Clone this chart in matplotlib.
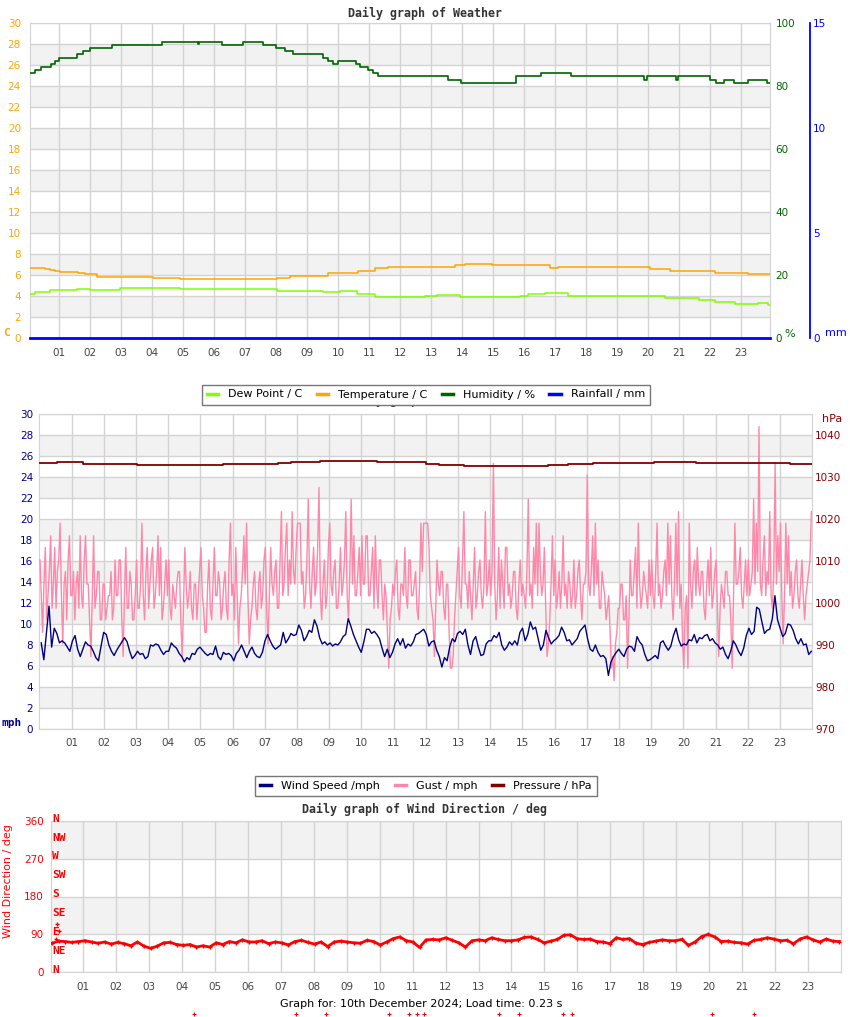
import numpy as np
import matplotlib
matplotlib.use("Agg")
import matplotlib.pyplot as plt
from matplotlib.lines import Line2D

plt.rcParams.update({"font.family": "DejaVu Sans", "font.size": 8})

# ---------------- data ----------------
# panel 1 (step series: hour of change, value)
temp_h = [0.05, 0.54, 0.70, 0.86, 1.02, 1.60, 1.83, 2.22, 4.03, 4.90, 8.03, 8.45, 9.68,
          10.64, 11.19, 11.60, 13.77, 14.09, 14.96, 16.83, 17.09, 20.06, 20.71, 22.16, 23.22, 23.93]
temp_c = [6.64, 6.55, 6.45, 6.35, 6.30, 6.16, 6.05, 5.81, 5.72, 5.62, 5.72, 5.90, 6.16,
          6.41, 6.64, 6.73, 6.95, 7.08, 6.92, 6.67, 6.80, 6.57, 6.40, 6.16, 6.06, 6.06]

dew_h = [0.05, 0.22, 0.70, 1.57, 1.99, 2.96, 4.90, 7.64, 8.03, 9.51, 10.06, 10.61, 11.19, 12.80,
         13.19, 13.93, 15.87, 16.13, 16.67, 17.42, 20.55, 21.65, 22.16, 22.80, 23.54, 23.86, 23.93]
dew_c = [4.16, 4.35, 4.54, 4.67, 4.60, 4.79, 4.70, 4.63, 4.44, 4.35, 4.44, 4.19, 3.90, 3.97,
         4.10, 3.94, 4.00, 4.19, 4.25, 3.97, 3.78, 3.59, 3.40, 3.24, 3.30, 3.10, 3.10]

hum_h = [0.05, 0.22, 0.40, 0.72, 0.86, 1.00, 1.56, 1.76, 1.99, 2.69, 4.30, 5.47, 5.52, 6.24, 6.92,
         7.58, 7.99, 8.28, 8.53, 9.52, 9.66, 9.82, 10.00, 10.57, 10.70, 10.97, 11.12, 11.28, 13.55,
         13.95, 15.75, 16.55, 17.50, 19.88, 19.95, 20.90, 20.97, 22.00, 22.19, 22.45, 22.78, 23.23,
         23.84, 23.93]
hum_pc = [84.0, 85.0, 85.9, 86.9, 87.8, 88.8, 90.0, 91.0, 92.0, 92.9, 93.9, 93.2, 93.9, 92.9, 93.9,
          92.9, 92.0, 91.0, 90.0, 88.8, 87.8, 86.9, 87.8, 86.9, 85.9, 85.0, 84.0, 83.1, 82.0,
          80.9, 83.1, 84.0, 83.1, 82.0, 83.1, 82.0, 83.1, 81.9, 80.9, 81.9, 80.9, 81.9,
          80.9, 80.9]

rain_h = [0.05, 23.93]
rain_mm = [0.0, 0.0]

# panel 2
pres_h = [0.0, 0.55, 1.36, 3.04, 5.0, 5.7, 7.4, 7.8, 8.7, 10.0, 10.5, 12.0, 12.4, 13.2, 13.8,
          15.8, 16.4, 17.2, 19.1, 20.4, 21.9, 23.3, 24.0]
pres_hpa = [1033.3, 1033.5, 1033.2, 1032.9, 1032.8, 1033.0, 1033.3, 1033.5, 1033.7, 1033.8,
            1033.6, 1033.2, 1032.9, 1032.7, 1032.6, 1032.8, 1033.1, 1033.3, 1033.5, 1033.4,
            1033.3, 1033.1, 1033.1]

wind_mph = [
    8.2, 6.6, 9.2, 11.7, 7.8, 9.6, 9.1, 8.2, 8.4, 8.2, 7.8, 7.4, 8.4, 8.9, 7.6, 6.9, 7.6, 8.3, 8.0, 7.9,
    7.4, 6.8, 6.5, 7.9, 9.2, 9.0, 8.0, 7.4, 7.0, 7.5, 7.9, 8.3, 8.7, 8.3, 7.4, 6.7, 7.0, 7.4, 7.1, 7.2,
    6.7, 6.9, 8.0, 7.9, 8.1, 8.0, 7.5, 7.1, 7.4, 7.4, 8.2, 7.9, 7.7, 7.2, 6.9, 6.4, 6.8, 6.6, 7.2, 7.1,
    7.6, 7.8, 7.5, 7.2, 7.0, 7.2, 7.1, 7.9, 6.9, 6.6, 7.3, 7.1, 7.2, 7.0, 6.5, 7.2, 7.5, 8.0, 7.4, 6.8,
    7.4, 7.8, 7.2, 6.9, 6.8, 7.3, 8.4, 9.0, 8.4, 7.9, 7.6, 7.8, 8.0, 9.2, 8.2, 8.6, 9.1, 8.9, 9.0, 9.9,
    9.4, 8.4, 8.8, 9.4, 9.2, 10.4, 9.8, 8.7, 8.1, 8.3, 8.0, 8.2, 7.9, 8.1, 8.0, 8.3, 8.8, 9.0, 10.5, 9.8,
    9.0, 8.4, 7.8, 7.3, 8.3, 9.5, 9.5, 9.1, 9.3, 9.0, 8.6, 7.7, 6.9, 7.6, 6.8, 7.3, 8.1, 8.6, 8.0, 8.6,
    7.7, 8.1, 7.9, 8.3, 9.0, 9.1,
    9.3, 9.5, 9.0, 7.9, 8.3, 8.4, 7.5, 6.9, 5.9, 6.8, 6.5, 7.8, 8.6, 8.3, 9.1, 9.3, 9.0, 9.5, 8.0, 7.1,
    8.4, 8.8, 7.8, 7.0, 7.1, 8.1, 8.4, 8.4, 8.9, 8.7, 9.2, 8.0, 7.5, 7.8, 8.3, 8.0, 8.4, 8.0, 9.2, 9.6,
    8.4, 9.0, 10.2, 9.5, 9.7, 8.6, 7.5, 8.0, 9.4, 8.7, 8.1, 8.4, 8.6, 8.9, 9.7, 9.2, 8.4, 8.5, 8.0, 8.3,
    8.6, 9.3, 9.6, 9.9, 8.6, 7.6, 7.4, 8.0, 7.3, 6.9, 7.0, 6.7, 5.1, 6.4, 6.9, 7.3, 7.6, 7.2, 6.9, 7.6,
    7.9, 7.8, 7.4, 8.8, 8.3, 8.0, 7.1, 6.5, 6.6, 6.8, 7.0, 6.7, 8.2, 8.4, 7.9, 7.5, 7.9, 8.9, 9.6, 8.5,
    7.9, 8.1, 8.0, 8.5, 8.4, 9.0, 8.2, 8.7, 8.6, 8.9, 9.0, 8.4, 8.6, 8.2, 8.0, 7.6, 7.8, 7.1, 6.7, 7.4,
    8.4, 8.0, 7.4, 7.0, 7.7, 8.9, 9.6, 9.0, 9.3, 11.6, 11.4, 10.2, 9.1, 9.4, 9.5, 10.5, 12.7, 10.4, 9.6, 8.8,
    9.1, 10.0, 9.9, 9.4, 8.6, 8.1, 8.6, 8.0, 8.1, 7.1, 7.4,
]

# gust, one row per hour
gust_mph = [
    16.1, 12.7, 9.2, 13.8, 17.3, 10.4, 12.7, 15.0, 18.4, 11.5, 13.8, 17.3, 11.5, 15.0, 16.1, 19.6, 12.7, 8.1, 13.8, 15.0, 10.4, 16.1, 18.4, 12.7,
    12.7, 15.0, 10.4, 13.8, 15.0, 11.5, 18.4, 12.7, 11.5, 16.1, 18.4, 13.8, 13.8, 10.4, 6.9, 12.7, 18.4, 11.5, 12.7, 15.0, 15.0, 10.4, 10.4, 13.8,
    13.8, 10.4, 11.5, 12.7, 12.7, 15.0, 10.4, 11.5, 16.1, 12.7, 12.7, 16.1, 16.1, 10.4, 6.9, 12.7, 17.3, 11.5, 11.5, 15.0, 13.8, 10.4, 10.4, 12.7,
    16.1, 11.5, 11.5, 13.8, 19.6, 12.7, 10.4, 15.0, 17.3, 11.5, 13.8, 16.1, 17.3, 11.5, 12.7, 15.0, 18.4, 12.7, 17.3, 10.4, 11.5, 13.8, 16.1, 12.7,
    16.1, 11.5, 10.4, 13.8, 12.7, 11.5, 13.8, 15.0, 15.0, 10.4, 6.9, 11.5, 17.3, 13.8, 11.5, 12.7, 15.0, 11.5, 10.4, 13.8, 13.8, 10.4, 12.7, 15.0,
    17.3, 12.7, 11.5, 9.2, 9.2, 13.8, 16.1, 11.5, 10.4, 13.8, 17.3, 12.7, 12.7, 15.0, 13.8, 10.4, 11.5, 13.8, 15.0, 11.5, 10.4, 16.1, 19.6, 12.7,
    13.8, 10.4, 17.3, 12.7, 8.1, 11.5, 12.7, 15.0, 18.4, 13.8, 19.6, 12.7, 8.1, 10.4, 11.5, 13.8, 15.0, 11.5, 10.4, 13.8, 15.0, 11.5, 12.7, 16.1,
    17.3, 11.5, 8.1, 12.7, 17.3, 13.8, 12.7, 15.0, 16.1, 11.5, 11.5, 16.1, 20.7, 12.7, 13.8, 17.3, 19.6, 12.7, 16.1, 13.8, 20.7, 15.0, 13.8, 17.3,
    19.6, 19.6, 19.6, 13.8, 15.0, 11.5, 12.7, 16.1, 21.9, 13.8, 11.5, 15.0, 17.3, 12.7, 13.8, 17.3, 23.0, 12.7, 10.4, 13.8, 16.1, 11.5, 12.7, 17.3,
    19.6, 13.8, 12.7, 15.0, 16.1, 11.5, 11.5, 13.8, 17.3, 12.7, 13.8, 16.1, 20.7, 12.7, 10.4, 15.0, 21.9, 13.8, 18.4, 12.7, 12.7, 15.0, 17.3, 12.7,
    18.4, 13.8, 13.8, 18.4, 18.4, 12.7, 12.7, 15.0, 17.3, 11.5, 18.4, 13.8, 11.5, 16.1, 16.1, 12.7, 10.4, 13.8, 12.7, 9.2, 5.8, 10.4, 11.5, 13.8,
    12.7, 15.0, 16.1, 11.5, 10.4, 13.8, 13.8, 12.7, 17.3, 12.7, 11.5, 16.1, 16.1, 12.7, 12.7, 13.8, 15.0, 11.5, 10.4, 13.8, 19.6, 15.0, 19.6, 19.6,
    19.6, 19.6, 17.3, 12.7, 11.5, 10.4, 6.9, 11.5, 16.1, 13.8, 12.7, 15.0, 15.0, 11.5, 10.4, 13.8, 13.8, 9.2, 5.8, 5.8, 6.9, 10.4, 12.7, 15.0,
    17.3, 12.7, 11.5, 16.1, 20.7, 13.8, 13.8, 11.5, 15.0, 12.7, 10.4, 13.8, 17.3, 11.5, 12.7, 15.0, 16.1, 12.7, 11.5, 13.8, 20.7, 12.7, 13.8, 16.1,
    12.7, 15.0, 25.3, 13.8, 10.4, 12.7, 17.3, 11.5, 16.1, 13.8, 11.5, 17.3, 17.3, 12.7, 13.8, 11.5, 12.7, 15.0, 15.0, 11.5, 10.4, 13.8, 16.1, 12.7,
    13.8, 12.7, 11.5, 15.0, 21.9, 12.7, 13.8, 11.5, 17.3, 13.8, 19.6, 12.7, 19.6, 15.0, 12.7, 13.8, 17.3, 11.5, 6.9, 8.1, 10.4, 13.8, 18.4, 12.7,
    16.1, 11.5, 12.7, 15.0, 11.5, 13.8, 18.4, 12.7, 13.8, 11.5, 15.0, 13.8, 11.5, 12.7, 16.1, 11.5, 12.7, 15.0, 16.1, 12.7, 10.4, 13.8, 13.8, 15.0,
    24.2, 13.8, 12.7, 15.0, 18.4, 12.7, 19.6, 13.8, 16.1, 11.5, 11.5, 15.0, 13.8, 12.7, 10.4, 11.5, 12.7, 9.2, 5.8, 6.9, 4.6, 8.1, 9.2, 11.5,
    11.5, 13.8, 13.8, 10.4, 10.4, 12.7, 5.8, 10.4, 16.1, 12.7, 12.7, 15.0, 17.3, 11.5, 19.6, 13.8, 11.5, 12.7, 15.0, 13.8, 12.7, 11.5, 16.1, 12.7,
    16.1, 12.7, 11.5, 15.0, 19.6, 12.7, 13.8, 11.5, 12.7, 15.0, 16.1, 12.7, 19.6, 13.8, 18.4, 12.7, 10.4, 13.8, 19.6, 12.7, 20.7, 11.5, 13.8, 8.1,
    5.8, 11.5, 12.7, 5.8, 19.6, 13.8, 11.5, 15.0, 16.1, 12.7, 17.3, 13.8, 12.7, 15.0, 15.0, 11.5, 10.4, 13.8, 16.1, 12.7, 17.3, 11.5, 12.7, 15.0,
    16.1, 11.5, 6.9, 11.5, 13.8, 12.7, 11.5, 15.0, 15.0, 12.7, 12.7, 10.4, 5.8, 12.7, 19.6, 13.8, 13.8, 15.0, 17.3, 12.7, 11.5, 13.8, 16.1, 12.7,
    16.1, 12.7, 13.8, 15.0, 21.9, 13.8, 19.6, 15.0, 28.8, 13.8, 12.7, 16.1, 18.4, 12.7, 15.0, 13.8, 20.7, 12.7, 11.5, 15.0, 25.3, 13.8, 18.4, 15.0,
    19.6, 12.7, 8.1, 12.7, 19.6, 13.8, 18.4, 12.7, 15.0, 11.5, 12.7, 15.0, 16.1, 12.7, 11.5, 13.8, 16.1, 12.7, 10.4, 12.7, 13.8, 15.0, 16.1, 20.7,
]

# panel 3 (wind direction, about every 12 minutes)
dir_deg = [
    69, 74, 73, 71, 73, 75, 72, 69, 72, 67, 71, 68, 63, 72, 62, 57, 62, 70, 71, 66,
    64, 66, 60, 63, 60, 70, 66, 73, 70, 77, 72, 72, 75, 68, 72, 70, 65, 73, 76, 71,
    67, 72, 61, 72, 74, 72, 70, 69, 76, 73, 65, 72, 80, 84, 75, 72, 59, 77, 78, 77,
    82, 76, 70, 60, 75, 77, 75, 82, 78, 75, 75, 77, 83, 84, 78, 70, 74, 78, 88, 89,
    80, 78, 79, 73, 72, 68, 82, 78, 80, 69, 66, 71, 74, 77, 75, 75, 78, 64, 72, 85,
    90, 84, 73, 74, 71, 70, 67, 76, 78, 82, 79, 75, 76, 68, 79, 84, 77, 72, 79, 74, 73,
]
stray_h = [0.17, 0.21, 0.27]
stray_deg = [80, 114, 98]
low_h = [4.37, 7.46, 8.36, 10.29, 10.9, 11.12, 11.34, 13.63, 14.23, 15.57, 15.84, 20.09, 21.36]
low_deg = [-100] * len(low_h)

compass = ["N", "NE", "E", "SE", "S", "SW", "W", "NW", "N"]
compass_deg = [0, 45, 90, 135, 180, 225, 270, 315, 360]

hours = list(range(1, 24))
hour_labels = [f"{h:02d}" for h in hours]

# ---------------- layout ----------------
W, H = 850, 1017
fig = plt.figure(figsize=(W / 100, H / 100), dpi=100)


def frac(l, t, r, b):
    return [l / W, 1 - b / H, (r - l) / W, (b - t) / H]


def fxy(x, y):
    return x / W, 1 - y / H


GRID = "#d3d3d3"
BAND = "#f2f2f2"
TICK = "#444444"
TITLE = dict(family="DejaVu Sans Mono", weight="bold", size=8.4, color="#333333",
             ha="center", va="center")
UNIT = dict(family="DejaVu Sans Mono", weight="bold", size=8, ha="center", va="center")
bands30 = [(lo, lo + 2) for lo in range(2, 30, 4)]


def base(ax, xlim, ylim, bands, yticks, xpad):
    ax.set_xlim(*xlim)
    ax.set_ylim(*ylim)
    for lo, hi in bands:
        ax.axhspan(lo, hi, color=BAND, lw=0, zorder=0)
    for y in yticks:
        ax.axhline(y, color=GRID, lw=1, zorder=1)
    for h in hours:
        ax.axvline(h, color=GRID, lw=1, zorder=1)
    ax.set_xticks(hours)
    ax.set_xticklabels(hour_labels)
    ax.tick_params(axis="x", length=0, pad=xpad, colors=TICK, labelsize=7.5)
    ax.set_yticks(yticks)
    for s in ax.spines.values():
        s.set_color(GRID)


def bare(ax):
    for s in ax.spines.values():
        s.set_visible(False)


# ---- panel 1: weather
ax1 = fig.add_axes(frac(30, 23, 770, 338))
base(ax1, (0.055, 23.93), (0, 30), bands30, list(range(0, 31, 2)), 7)
ax1.tick_params(axis="y", length=0, pad=6.5, labelcolor="#ffa500", labelsize=7.5)
ax1.step(dew_h, dew_c, where="post", color="#7fff00", lw=1.1, zorder=3)
ax1.step(temp_h, temp_c, where="post", color="#ffa500", lw=1.1, zorder=3)

axh = ax1.twinx()
bare(axh)
axh.set_ylim(0, 100)
axh.set_yticks(range(0, 101, 20))
axh.tick_params(axis="y", length=0, pad=4, labelcolor="#006400", labelsize=7.5)
axh.step(hum_h, hum_pc, where="post", color="#006400", lw=1.2)

axr = ax1.twinx()
bare(axr)
axr.spines["right"].set_visible(True)
axr.spines["right"].set_position(("axes", (810.3 - 30) / 740))
axr.spines["right"].set_color("blue")
axr.spines["right"].set_linewidth(1.3)
axr.set_ylim(0, 15)
axr.set_yticks([0, 5, 10, 15])
axr.tick_params(axis="y", length=0, pad=2, labelcolor="blue", labelsize=7.5)
axr.plot(rain_h, rain_mm, color="blue", lw=2, clip_on=False)

fig.text(*fxy(425, 13), "Daily graph of Weather", **TITLE)
fig.text(*fxy(6, 333), "C", color="#ffa500", **UNIT)
fig.text(*fxy(789.5, 334), "%", color="#006400", size=8, ha="center", va="center")
fig.text(*fxy(836, 333), "mm", color="blue", size=8, ha="center", va="center")

# ---- panel 2: wind / pressure
ax2 = fig.add_axes(frac(39.3, 414, 812.3, 729))
base(ax2, (0, 24), (0, 30), bands30, list(range(0, 31, 2)), 6.5)
ax2.tick_params(axis="y", length=0, pad=4.3, labelcolor="#00008b", labelsize=7.5)
gust_t = np.linspace(0.02, 23.97, len(gust_mph))
wind_t = np.linspace(0.06, 23.97, len(wind_mph))
ax2.plot(gust_t, gust_mph, color="#ff88aa", lw=1, zorder=3)
ax2.plot(wind_t, wind_mph, color="#000080", lw=1, zorder=4)

axp = ax2.twinx()
bare(axp)
axp.set_ylim(970, 1045)
axp.set_yticks(range(970, 1041, 10))
axp.tick_params(axis="y", length=0, pad=2, labelcolor="#8b0000", labelsize=7.5)
axp.step(pres_h, pres_hpa, where="post", color="#800000", lw=1.3)

# second title sits behind the first legend, as in the source page
fig.text(*fxy(425, 400), "Daily graph of Weather", **TITLE)
fig.text(*fxy(832, 419), "hPa", color="#8b0000", size=8, ha="center", va="center")
fig.text(*fxy(12, 723), "mph", color="#00008b", **UNIT)

# ---- panel 3: wind direction
ax3 = fig.add_axes(frac(50.5, 820.7, 840.7, 972.3))
base(ax3, (0, 24), (0, 360), [(90, 180), (270, 360)], [0, 90, 180, 270, 360], 7)
ax3.tick_params(axis="y", length=0, pad=5, labelcolor="red", labelsize=7.5)
dir_t = np.linspace(0.05, 23.96, len(dir_deg))
ax3.plot(dir_t, dir_deg, color="red", lw=2, marker="+", ms=3.5, mew=1, zorder=3)
ax3.plot(stray_h, stray_deg, ls="none", marker="+", color="red", ms=3.5, mew=1, zorder=3)
ax3.plot(low_h, low_deg, ls="none", marker="+", color="red", ms=2.5, mew=0.8, clip_on=False)
for lab, deg in zip(compass, compass_deg):
    ax3.text(0.05, deg + 5, lab, color="red", family="DejaVu Sans Mono", weight="bold",
             size=8, ha="left", va="center", zorder=5)

fig.text(*fxy(425, 809), "Daily graph of Wind Direction / deg", **TITLE)
fig.text(*fxy(8, 881), "Wind Direction / deg", color="red", size=8, rotation=90,
         ha="center", va="center")
fig.text(*fxy(421, 1004), "Graph for: 10th December 2024; Load time: 0.23 s",
         color="black", size=8, ha="center", va="center")

# ---- legends
leg_kw = dict(loc="center", ncol=4, fontsize=8, frameon=True, fancybox=False,
              edgecolor="#777777", framealpha=1, handlelength=1.0, handletextpad=0.9,
              columnspacing=1.3, borderpad=0.45)
h1 = [Line2D([], [], color=c, lw=2.5) for c in ["#7fff00", "#ffa500", "#006400", "blue"]]
lg1 = fig.legend(h1, ["Dew Point / C", "Temperature / C", "Humidity / %", "Rainfall / mm"],
                 bbox_to_anchor=fxy(426, 394.5), **leg_kw)
lg1.get_frame().set_linewidth(1)
h2 = [Line2D([], [], color=c, lw=2.5) for c in ["#000080", "#ff88aa", "#800000"]]
lg2 = fig.legend(h2, ["Wind Speed /mph", "Gust / mph", "Pressure / hPa"],
                 bbox_to_anchor=fxy(426, 786), **leg_kw)
lg2.get_frame().set_linewidth(1)

fig.savefig("out.png", dpi=100)
